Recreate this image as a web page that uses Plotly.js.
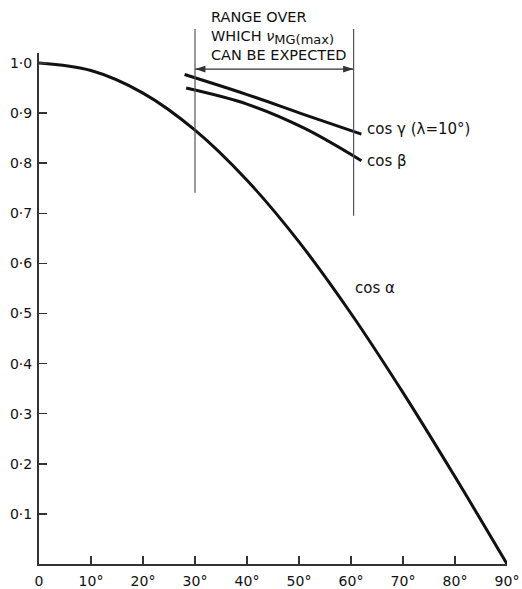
<!DOCTYPE html>
<html>
<head>
<meta charset="utf-8">
<script src="https://cdn.plot.ly/plotly-3.0.1.min.js"></script>
<style>html,body{margin:0;padding:0;background:#fff;}</style>
</head>
<body>
<div id="chart" style="width:522px;height:589px;"></div>
<script>
// Data
var angleAlpha = [0, 10, 20, 30, 40, 50, 60, 70, 80, 90];
var cosAlpha   = [1.0, 0.985, 0.94, 0.866, 0.766, 0.643, 0.5, 0.342, 0.174, 0.0];

var angleBeta = [28.3, 40, 51, 62];
var cosBeta   = [0.950, 0.918, 0.870, 0.805];

var angleGamma = [28, 40, 51, 62];
var cosGamma   = [0.977, 0.937, 0.897, 0.858];

var xTickVals = [0, 10, 20, 30, 40, 50, 60, 70, 80, 90];
var xTickText = ['0', '10°', '20°', '30°', '40°', '50°', '60°', '70°', '80°', '90°'];
var yTickVals = [0.1, 0.2, 0.3, 0.4, 0.5, 0.6, 0.7, 0.8, 0.9, 1.0];
var yTickText = ['0·1', '0·2', '0·3', '0·4', '0·5', '0·6', '0·7', '0·8', '0·9', '1·0'];

// Range markers
var rangeX = [30, 60.5];
var rangeBottoms = [0.741, 0.695];
var rangeTop = 1.068;
var rangeArrowY = 0.988;
var rangeTextX = 32.7, rangeTextY = 1.054;

var Y_MAX = 1.02;
var FONT = 'DejaVu Sans, Liberation Sans, sans-serif';
var INK = '#111';

var lineStyle = {color: INK, width: 3, shape: 'spline', smoothing: 1};

var traces = [
  {x: angleAlpha, y: cosAlpha, mode: 'lines', line: lineStyle, hoverinfo: 'skip'},
  {x: angleBeta, y: cosBeta, mode: 'lines', line: lineStyle, hoverinfo: 'skip'},
  {x: angleGamma, y: cosGamma, mode: 'lines', line: lineStyle, hoverinfo: 'skip'},
  // double-headed range arrow
  {x: rangeX, y: [rangeArrowY, rangeArrowY], mode: 'lines+markers',
   line: {color: '#333', width: 1.3},
   marker: {symbol: 'arrow', size: 11, angle: [270, 90], color: '#333', line: {width: 0}},
   hoverinfo: 'skip', cliponaxis: false}
];

// vertical range lines: they rise above the plot area, so y is given in paper units from the data value
var shapes = rangeX.map(function (xv, i) {
  return {type: 'line', xref: 'x', yref: 'paper', x0: xv, x1: xv,
          y0: rangeBottoms[i] / Y_MAX, y1: rangeTop / Y_MAX,
          line: {color: '#555', width: 1.2}};
});

var annotations = [
  {x: rangeTextX, y: rangeTextY / Y_MAX, xref: 'x', yref: 'paper', xanchor: 'left', yanchor: 'middle', align: 'left', showarrow: false,
   text: 'RANGE OVER<br>WHICH <i>ν</i><sub><span style="font-size:13px">MG(max)</span></sub><br>CAN BE EXPECTED',
   font: {family: FONT, size: 14.5, color: INK}},
  {x: 62.7, y: 0.8685, xref: 'x', yref: 'y', xanchor: 'left', yanchor: 'middle', showarrow: false,
   text: 'cos γ (λ=10°)', font: {family: FONT, size: 15, color: INK}},
  {x: 62.7, y: 0.805, xref: 'x', yref: 'y', xanchor: 'left', yanchor: 'middle', showarrow: false,
   text: 'cos β', font: {family: FONT, size: 15, color: INK}},
  {x: 60.4, y: 0.55, xref: 'x', yref: 'y', xanchor: 'left', yanchor: 'middle', showarrow: false,
   text: 'cos α', font: {family: FONT, size: 15, color: INK}}
];

var layout = {
  width: 522, height: 589,
  margin: {l: 39, r: 15, t: 53, b: 25, pad: 0},
  paper_bgcolor: '#fff', plot_bgcolor: '#fff',
  showlegend: false,
  font: {family: FONT, size: 14, color: INK},
  xaxis: {
    range: [0, 90], showgrid: false, zeroline: false,
    showline: true, linecolor: '#333', linewidth: 2,
    ticks: 'inside', ticklen: 8, tickwidth: 1.5, tickcolor: '#333',
    tickvals: xTickVals, ticktext: xTickText, ticklabelstandoff: 3,
    tickfont: {family: FONT, size: 14, color: INK}
  },
  yaxis: {
    range: [0, Y_MAX], showgrid: false, zeroline: false,
    showline: true, linecolor: '#333', linewidth: 2,
    ticks: 'inside', ticklen: 8, tickwidth: 1.5, tickcolor: '#333',
    tickvals: yTickVals, ticktext: yTickText, ticklabelstandoff: 2,
    tickfont: {family: FONT, size: 14, color: INK}
  },
  shapes: shapes,
  annotations: annotations
};

Plotly.newPlot('chart', traces, layout, {staticPlot: true, displayModeBar: false});
</script>
</body>
</html>
